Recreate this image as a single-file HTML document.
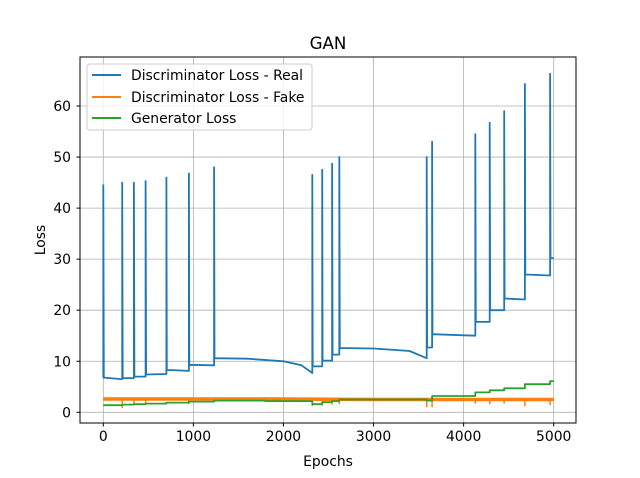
<!DOCTYPE html>
<html><head><meta charset="utf-8"><style>
body{margin:0;background:#fff}
svg{display:block;font-family:"DejaVu Sans","Liberation Sans",sans-serif}
</style></head><body>
<svg id="chart" width="640" height="478">
<rect width="640" height="478" fill="#fff"/>
<g id="grid"></g>
<g id="series"></g>
<rect x="80" y="57" width="496" height="366" fill="none" stroke="#000" stroke-width="1"/>
<g id="axes"></g>
<text x="328" y="49" text-anchor="middle" font-size="16.7">GAN</text>
<text x="328" y="466" text-anchor="middle" font-size="13.9">Epochs</text>
<text transform="translate(45,240) rotate(-90)" text-anchor="middle" font-size="13.9">Loss</text>
<g>
<rect x="87" y="64" width="225" height="66" rx="3" fill="#fff" fill-opacity="0.8" stroke="#ccc"/>
<g><line x1="92" y1="75" x2="121" y2="75" stroke="#1f77b4" stroke-width="2"/><text x="131" y="80" font-size="13.9">Discriminator Loss - Real</text></g>
<g><line x1="92" y1="97" x2="121" y2="97" stroke="#ff7f0e" stroke-width="2"/><text x="131" y="102" font-size="13.9">Discriminator Loss - Fake</text></g>
<g><line x1="92" y1="118" x2="121" y2="118" stroke="#2ca02c" stroke-width="2"/><text x="131" y="123" font-size="13.9">Generator Loss</text></g>
</g>
</svg>
<script>
const xTicks=[0,1000,2000,3000,4000,5000];
const yTicks=[0,10,20,30,40,50,60];
const blueX=[0,0,5,200,210,210,215,340,340,340,345,470,470,470,475,700,700,700,705,950,950,950,955,1230,1230,1230,1235,1600,2000,2200,2320,2320,2320,2325,2430,2430,2430,2435,2540,2540,2540,2545,2620,2620,2620,2625,3000,3400,3590,3590,3590,3595,3650,3650,3650,3655,4130,4130,4130,4135,4290,4290,4290,4295,4450,4450,4450,4455,4680,4680,4680,4685,4960,4960,4960,4965,5000];
const blueY=[6.8,44.5,6.8,6.5,6.5,45,6.7,6.7,6.7,45,7.0,7.0,7.0,45.3,7.4,7.5,7.5,46,8.3,8.1,8.1,46.8,9.3,9.2,9.2,48,10.6,10.5,10,9.2,7.7,7.7,46.5,9,9,9,47.5,10.1,10.1,10.1,48.7,11.3,11.3,11.3,50,12.6,12.5,12,10.6,10.6,50,12.7,12.7,12.7,53,15.3,15,15,54.5,17.7,17.7,17.7,56.7,20,20,20,59,22.3,22.1,22.1,64.3,27,26.8,26.8,66.3,30.2,30.2];
const greenX=[0,210,340,470,700,950,1230,1800,2320,2430,2540,2620,3590,3650,4130,4290,4450,4680,4960,5000];
const greenY=[1.4,1.5,1.6,1.7,1.9,2.1,2.3,2.2,1.6,2.0,2.2,2.5,2.3,3.2,3.9,4.3,4.7,5.5,6.1,6.1];
const orangeX=[0,1000,2000,3000,4000,5000];
const orangeY=[2.6,2.6,2.6,2.5,2.5,2.5];
const orangeSpikeX=[210,340,470,950,2320,2430,2540,2620,3590,3650,4130,4290,4450,4680,4960];
const orangeSpikeY=[0.8,1.6,1.7,1.6,1.2,1.3,1.5,1.6,1.0,1.0,1.7,1.6,1.7,1.2,1.4];
const NS='http://www.w3.org/2000/svg';
const sx=v=>103.3+v*0.09008;
const sy=v=>412.3-v*5.105;
const grid=document.getElementById('grid'),axes=document.getElementById('axes'),ser=document.getElementById('series');
function mk(tag,attrs,parent){const e=document.createElementNS(NS,tag);for(const k in attrs)e.setAttribute(k,attrs[k]);parent.appendChild(e);return e;}
xTicks.forEach(t=>{const x=sx(t);
const g=mk('line',{x1:x,x2:x,y1:57,y2:423,stroke:'#b0b0b0','stroke-width':0.8},grid);


mk('line',{x1:x,x2:x,y1:423,y2:426.5,stroke:'#000'},axes);
const tx=mk('text',{x:x,y:441,'text-anchor':'middle','font-size':13.9},axes);tx.textContent=t;

});
yTicks.forEach(t=>{const y=sy(t);
const g=mk('line',{x1:80,x2:576,y1:y,y2:y,stroke:'#b0b0b0','stroke-width':0.8},grid);


mk('line',{x1:76.5,x2:80,y1:y,y2:y,stroke:'#000'},axes);
const tx=mk('text',{x:71,y:y+5,'text-anchor':'end','font-size':13.9},axes);tx.textContent=t;

});
function line(xs,ys,color,w,name){const p=xs.map((x,i)=>sx(x).toFixed(1)+','+sy(ys[i]).toFixed(1)).join(' ');
const e=mk('polyline',{points:p,fill:'none',stroke:color,'stroke-width':w,'stroke-linejoin':'round'},ser);

}
line(orangeX,orangeY,'#ff7f0e',3.5,'fake-loss-line');
orangeSpikeX.forEach((x,i)=>{const e=mk('line',{x1:sx(x),x2:sx(x),y1:sy(2.5),y2:sy(orangeSpikeY[i]),stroke:'#ff7f0e','stroke-width':1.5},ser);

});
line(blueX,blueY,'#1f77b4',1.8,'real-loss-line');
const gx=[],gy=[];greenX.forEach((x,i)=>{if(i>0){gx.push(x);gy.push(greenY[i-1]);}gx.push(x);gy.push(greenY[i]);});
line(gx,gy,'#2ca02c',1.8,'generator-loss-line');
</script>
</body></html>
